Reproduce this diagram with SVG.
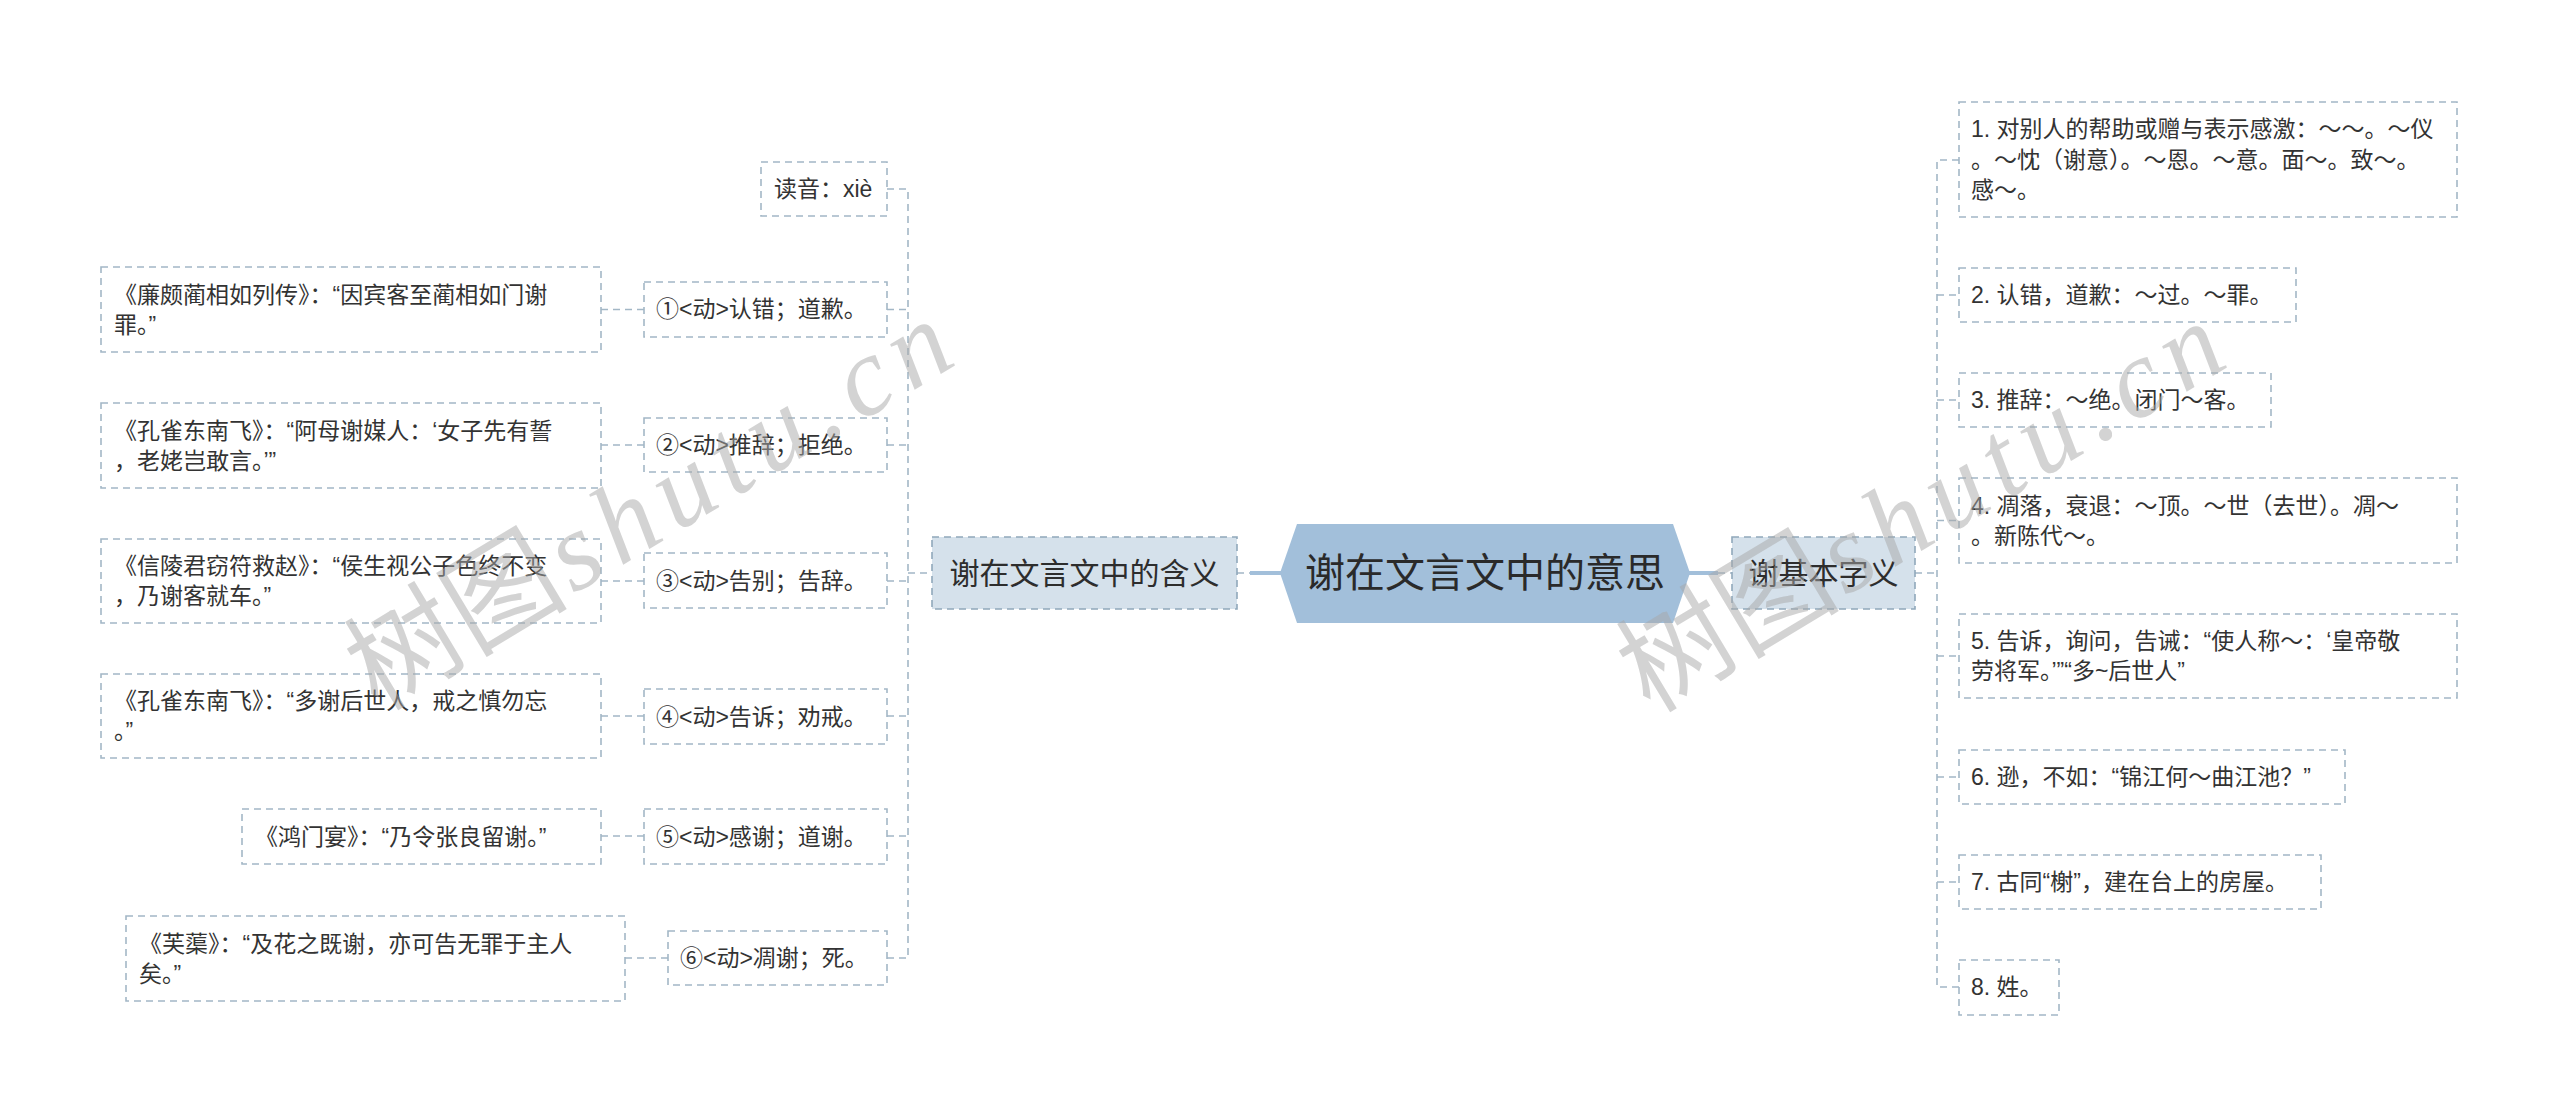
<svg xmlns="http://www.w3.org/2000/svg" width="2560" height="1117" viewBox="0 0 2560 1117">
<style>
.leaf{fill:#ffffff;stroke:#a3b7c6;stroke-width:1.6;stroke-dasharray:7 5}
.l1{fill:#d5e1eb;stroke:#90a8bb;stroke-width:1.6;stroke-dasharray:7 5}
.t{font-family:"Liberation Sans","Noto Sans CJK SC",sans-serif;font-size:23px;fill:#333333}
.t1{font-family:"Liberation Sans","Noto Sans CJK SC",sans-serif;font-size:30px;fill:#2d2d2d;text-anchor:middle}
.t0{font-family:"Liberation Sans","Noto Sans CJK SC",sans-serif;font-size:40px;fill:#2a2a2a;text-anchor:middle}
.c{fill:none;stroke:#a3b7c6;stroke-width:1.6;stroke-dasharray:7 5}
.cs{fill:none;stroke:#a2bfda;stroke-width:4}
.wm{font-family:"Liberation Serif","Noto Sans CJK SC",serif;font-size:112px;fill:#a8a8a8;fill-opacity:0.5}
</style>
<rect width="2560" height="1117" fill="#ffffff"/>
<g id="connectors">
<path class="c" d="M887 189H908V958"/>
<path class="c" d="M887 309.5H908M601 309.5H644"/>
<path class="c" d="M887 445H908M601 445H644"/>
<path class="c" d="M887 581H908M601 581H644"/>
<path class="c" d="M887 716H908M601 716H644"/>
<path class="c" d="M887 836H908M601 836H644"/>
<path class="c" d="M887 958H908M625 958H668"/>
<path class="c" d="M908 573H932"/>
<path class="c" d="M1237 573H1250"/>
<path class="cs" d="M1250 573H1281"/>
<path class="cs" d="M1689 573H1718"/>
<path class="c" d="M1718 573H1732"/>
<path class="c" d="M1915 573H1937"/>
<path class="c" d="M1959 160H1937V987H1959"/>
<path class="c" d="M1937 295H1959M1937 400H1959M1937 520.5H1959M1937 656H1959M1937 777H1959M1937 882H1959"/>
</g>
<g id="center">
<polygon points="1280,573 1297,524 1673,524 1690,573 1673,623 1297,623" fill="#a2bfda"/>
<text class="t0" x="1485" y="587">谢在文言文中的意思</text>
</g>
<g id="n-hanyi">
<rect class="l1" x="932" y="537" width="305" height="72"/>
<text class="t1" x="1084.5" y="584">谢在文言文中的含义</text>
</g>
<g id="n-jiben">
<rect class="l1" x="1732" y="537" width="183" height="72"/>
<text class="t1" x="1823.5" y="584">谢基本字义</text>
</g>
<g id="n-duyin">
<rect class="leaf" x="761" y="162" width="126" height="54"/>
<text class="t" x="774" y="197">读音：xiè</text>
</g>
<g id="n-1">
<rect class="leaf" x="644" y="282" width="243" height="55"/>
<text class="t" x="656" y="317">①&lt;动&gt;认错；道歉。</text>
</g>
<g id="n-1a">
<rect class="leaf" x="101" y="267" width="500" height="85"/>
<text class="t" x="114" y="303">《廉颇蔺相如列传》：“因宾客至蔺相如门谢</text>
<text class="t" x="114" y="333">罪。”</text>
</g>
<g id="n-2">
<rect class="leaf" x="644" y="418" width="243" height="54"/>
<text class="t" x="656" y="453">②&lt;动&gt;推辞；拒绝。</text>
</g>
<g id="n-2a">
<rect class="leaf" x="101" y="403" width="500" height="85"/>
<text class="t" x="114" y="439">《孔雀东南飞》：“阿母谢媒人：‘女子先有誓</text>
<text class="t" x="114" y="469">，老姥岂敢言。’”</text>
</g>
<g id="n-3">
<rect class="leaf" x="644" y="553" width="243" height="55"/>
<text class="t" x="656" y="589">③&lt;动&gt;告别；告辞。</text>
</g>
<g id="n-3a">
<rect class="leaf" x="101" y="539" width="500" height="84"/>
<text class="t" x="114" y="574">《信陵君窃符救赵》：“侯生视公子色终不变</text>
<text class="t" x="114" y="604">，乃谢客就车。”</text>
</g>
<g id="n-4">
<rect class="leaf" x="644" y="689" width="243" height="55"/>
<text class="t" x="656" y="725">④&lt;动&gt;告诉；劝戒。</text>
</g>
<g id="n-4a">
<rect class="leaf" x="101" y="674" width="500" height="84"/>
<text class="t" x="114" y="709">《孔雀东南飞》：“多谢后世人，戒之慎勿忘</text>
<text class="t" x="114" y="739">。”</text>
</g>
<g id="n-5">
<rect class="leaf" x="644" y="809" width="243" height="55"/>
<text class="t" x="656" y="845">⑤&lt;动&gt;感谢；道谢。</text>
</g>
<g id="n-5a">
<rect class="leaf" x="242" y="809" width="359" height="55"/>
<text class="t" x="255" y="845">《鸿门宴》：“乃令张良留谢。”</text>
</g>
<g id="n-6">
<rect class="leaf" x="668" y="931" width="219" height="54"/>
<text class="t" x="680" y="966">⑥&lt;动&gt;凋谢；死。</text>
</g>
<g id="n-6a">
<rect class="leaf" x="126" y="916" width="499" height="85"/>
<text class="t" x="139" y="952">《芙蕖》：“及花之既谢，亦可告无罪于主人</text>
<text class="t" x="139" y="982">矣。”</text>
</g>
<g id="r-1">
<rect class="leaf" x="1959" y="102" width="498" height="115"/>
<text class="t" x="1971" y="137">1. 对别人的帮助或赠与表示感激：～～。～仪</text>
<text class="t" x="1971" y="168">。～忱（谢意）。～恩。～意。面～。致～。</text>
<text class="t" x="1971" y="198">感～。</text>
</g>
<g id="r-2">
<rect class="leaf" x="1959" y="268" width="337" height="54"/>
<text class="t" x="1971" y="303">2. 认错，道歉：～过。～罪。</text>
</g>
<g id="r-3">
<rect class="leaf" x="1959" y="373" width="312" height="54"/>
<text class="t" x="1971" y="408">3. 推辞：～绝。闭门～客。</text>
</g>
<g id="r-4">
<rect class="leaf" x="1959" y="478" width="498" height="85"/>
<text class="t" x="1971" y="514">4. 凋落，衰退：～顶。～世（去世）。凋～</text>
<text class="t" x="1971" y="544">。新陈代～。</text>
</g>
<g id="r-5">
<rect class="leaf" x="1959" y="614" width="498" height="84"/>
<text class="t" x="1971" y="649">5. 告诉，询问，告诫：“使人称～：‘皇帝敬</text>
<text class="t" x="1971" y="679">劳将军。’”“多~后世人”</text>
</g>
<g id="r-6">
<rect class="leaf" x="1959" y="750" width="386" height="54"/>
<text class="t" x="1971" y="785">6. 逊，不如：“锦江何～曲江池？”</text>
</g>
<g id="r-7">
<rect class="leaf" x="1959" y="855" width="362" height="54"/>
<text class="t" x="1971" y="890">7. 古同“榭”，建在台上的房屋。</text>
</g>
<g id="r-8">
<rect class="leaf" x="1959" y="960" width="100" height="55"/>
<text class="t" x="1971" y="995">8. 姓。</text>
</g>
<g id="watermarks">
<g transform="translate(378,712) rotate(-31)">
<text class="wm" x="0" y="0">树图</text>
<text class="wm" x="228" y="0" font-style="italic" textLength="450" lengthAdjust="spacing">shutu.cn</text>
</g>
<g transform="translate(1650,714) rotate(-31)">
<text class="wm" x="0" y="0">树图</text>
<text class="wm" x="228" y="0" font-style="italic" textLength="450" lengthAdjust="spacing">shutu.cn</text>
</g>
</g>
</svg>
